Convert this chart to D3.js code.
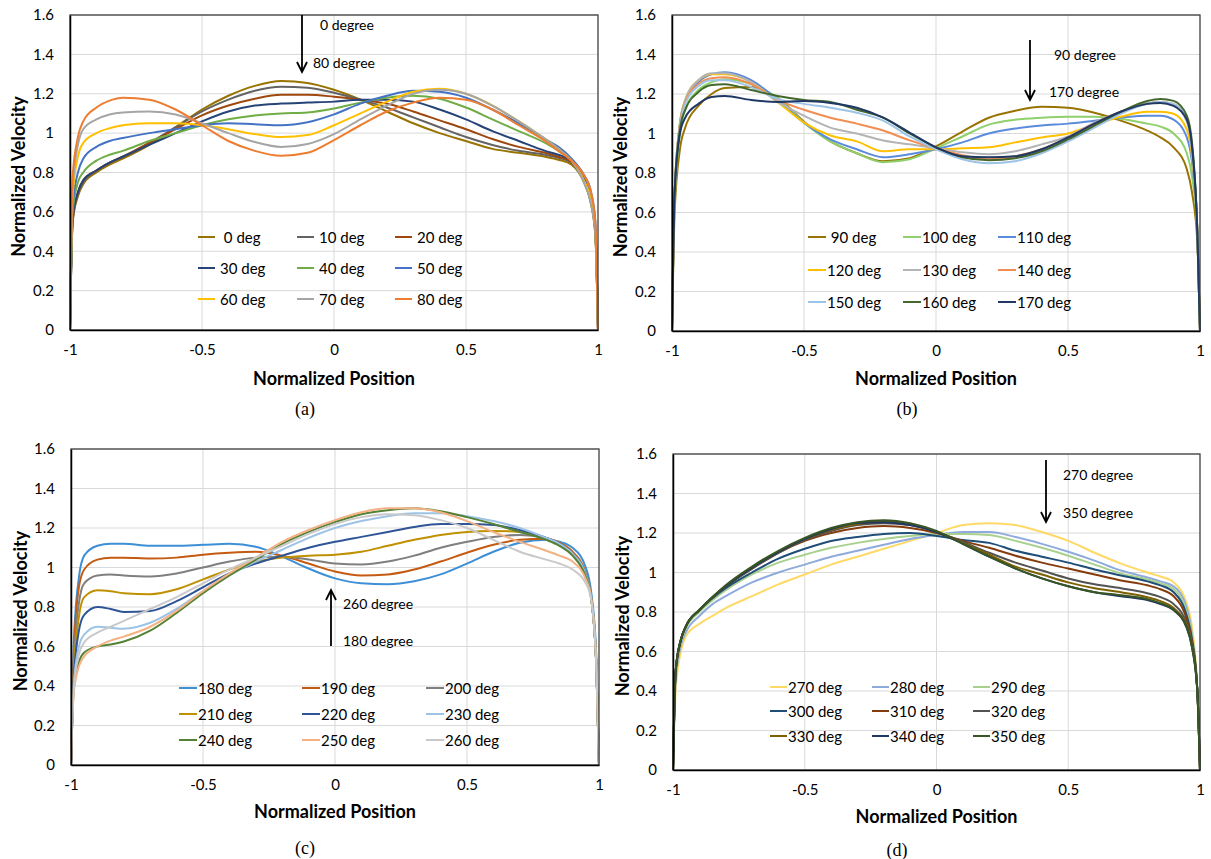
<!DOCTYPE html>
<html>
<head>
<meta charset="utf-8">
<script src="https://cdn.jsdelivr.net/npm/d3@7"></script>
<style>
  body { margin: 0; background: #fff; }
  svg { display: block; }
</style>
</head>
<body>
<svg id="fig" width="1211" height="859"></svg>
<script>
// normalized position samples shared by all curves
var xs = [-1, -0.99, -0.97, -0.95, -0.9, -0.85, -0.8, -0.7, -0.6, -0.5, -0.4, -0.3, -0.2, -0.1, 0,
          0.1, 0.2, 0.3, 0.4, 0.5, 0.6, 0.7, 0.8, 0.85, 0.9, 0.95, 0.97, 0.99, 1]

var yTicks = [0, 0.2, 0.4, 0.6, 0.8, 1, 1.2, 1.4, 1.6]
var xTicks = [-1, -0.5, 0, 0.5, 1]

// (a) 0 - 80 deg
var labelsA = [" 0 deg", "10 deg", "20 deg", "30 deg", "40 deg", "50 deg", "60 deg", "70 deg", "80 deg"]
var valuesA = [
  [0, 0.55, 0.68, 0.74, 0.8, 0.84, 0.87, 0.94, 1.03, 1.12, 1.19, 1.24, 1.265, 1.255, 1.22, 1.17, 1.11, 1.05, 1.0, 0.96, 0.92, 0.9, 0.88, 0.865, 0.84, 0.74, 0.66, 0.48, 0],
  [0, 0.55, 0.69, 0.75, 0.81, 0.85, 0.88, 0.95, 1.03, 1.11, 1.17, 1.215, 1.235, 1.23, 1.205, 1.17, 1.13, 1.08, 1.03, 0.98, 0.94, 0.91, 0.89, 0.875, 0.85, 0.75, 0.67, 0.5, 0],
  [0, 0.56, 0.7, 0.76, 0.81, 0.85, 0.88, 0.95, 1.02, 1.09, 1.14, 1.175, 1.195, 1.195, 1.185, 1.17, 1.15, 1.11, 1.065, 1.02, 0.97, 0.93, 0.9, 0.88, 0.855, 0.75, 0.67, 0.5, 0],
  [0, 0.57, 0.7, 0.76, 0.81, 0.85, 0.88, 0.94, 1.0, 1.06, 1.11, 1.14, 1.15, 1.155, 1.16, 1.17, 1.17, 1.16, 1.12, 1.07, 1.01, 0.96, 0.91, 0.89, 0.86, 0.76, 0.68, 0.5, 0],
  [0, 0.6, 0.75, 0.8, 0.86, 0.89, 0.91, 0.96, 1.0, 1.04, 1.07, 1.09, 1.1, 1.105, 1.125, 1.155, 1.18, 1.19, 1.175, 1.13, 1.07, 1.01, 0.95, 0.91, 0.86, 0.75, 0.67, 0.5, 0],
  [0, 0.63, 0.8, 0.87, 0.93, 0.96, 0.975, 1.0, 1.02, 1.04, 1.05, 1.045, 1.04, 1.055, 1.095, 1.15, 1.19, 1.215, 1.21, 1.18, 1.12, 1.05, 0.97, 0.93, 0.87, 0.78, 0.72, 0.55, 0],
  [0, 0.68, 0.88, 0.95, 1.0, 1.025, 1.04, 1.05, 1.05, 1.04, 1.02, 0.995, 0.98, 0.99, 1.04, 1.1, 1.16, 1.21, 1.225, 1.2, 1.14, 1.06, 0.97, 0.92, 0.86, 0.75, 0.68, 0.5, 0],
  [0, 0.72, 0.94, 1.02, 1.07, 1.095, 1.105, 1.11, 1.095, 1.05, 1.0, 0.955, 0.93, 0.945, 0.995, 1.07, 1.14, 1.2, 1.22, 1.2, 1.14, 1.06, 0.97, 0.92, 0.86, 0.74, 0.66, 0.48, 0],
  [0, 0.78, 0.98, 1.06, 1.13, 1.165, 1.18, 1.17, 1.12, 1.04, 0.96, 0.91, 0.885, 0.9, 0.965, 1.04, 1.11, 1.155, 1.18, 1.17, 1.12, 1.04, 0.96, 0.91, 0.86, 0.78, 0.72, 0.55, 0]
]
var colorsA = ["#997300", "#636363", "#9e480e", "#264478", "#70ad47", "#4472c4", "#ffc000", "#a5a5a5", "#ed7d31"]

// (b) 90 - 170 deg
var labelsB = [" 90 deg", "100 deg", "110 deg", "120 deg", "130 deg", "140 deg", "150 deg", "160 deg", "170 deg"]
var valuesB = [
  [0, 0.6, 0.92, 1.03, 1.14, 1.2, 1.23, 1.235, 1.18, 1.06, 0.96, 0.9, 0.86, 0.875, 0.935, 1.01, 1.08, 1.115, 1.135, 1.13, 1.105, 1.065, 1.015, 0.98, 0.93, 0.82, 0.7, 0.45, 0],
  [0, 0.65, 1.0, 1.12, 1.22, 1.26, 1.275, 1.25, 1.18, 1.055, 0.96, 0.9, 0.855, 0.87, 0.925, 0.985, 1.045, 1.07, 1.08, 1.085, 1.085, 1.075, 1.05, 1.035, 1.0, 0.9, 0.78, 0.5, 0],
  [0, 0.7, 1.05, 1.16, 1.26, 1.3, 1.31, 1.27, 1.17, 1.055, 0.97, 0.92, 0.88, 0.895, 0.92, 0.955, 1.0, 1.025, 1.04, 1.05, 1.065, 1.08, 1.09, 1.09, 1.07, 0.98, 0.85, 0.5, 0],
  [0, 0.7, 1.05, 1.17, 1.27, 1.3, 1.3, 1.26, 1.16, 1.055, 0.99, 0.96, 0.91, 0.92, 0.92, 0.925, 0.93, 0.955, 0.98, 1.0, 1.045, 1.085, 1.11, 1.11, 1.1, 1.02, 0.88, 0.5, 0],
  [0, 0.7, 1.05, 1.17, 1.27, 1.305, 1.305, 1.26, 1.16, 1.09, 1.03, 1.0, 0.965, 0.945, 0.925, 0.905, 0.895, 0.91, 0.945, 0.985, 1.055, 1.11, 1.155, 1.16, 1.145, 1.06, 0.9, 0.5, 0],
  [0, 0.7, 1.04, 1.16, 1.25, 1.28, 1.285, 1.25, 1.17, 1.12, 1.08, 1.05, 1.015, 0.965, 0.925, 0.89, 0.87, 0.885, 0.92, 0.98, 1.05, 1.11, 1.15, 1.16, 1.15, 1.07, 0.92, 0.5, 0],
  [0, 0.7, 1.03, 1.15, 1.24, 1.27, 1.27, 1.235, 1.175, 1.15, 1.13, 1.105, 1.065, 0.985, 0.92, 0.87, 0.85, 0.86, 0.9, 0.96, 1.03, 1.1, 1.15, 1.16, 1.15, 1.07, 0.92, 0.5, 0],
  [0, 0.7, 1.02, 1.12, 1.21, 1.245, 1.25, 1.22, 1.19, 1.17, 1.16, 1.12, 1.08, 1.0, 0.93, 0.88, 0.865, 0.875, 0.91, 0.97, 1.04, 1.11, 1.165, 1.175, 1.165, 1.09, 0.95, 0.5, 0],
  [0, 0.7, 1.0, 1.08, 1.15, 1.185, 1.19, 1.17, 1.16, 1.165, 1.155, 1.13, 1.08, 1.005, 0.93, 0.885, 0.88, 0.885, 0.92, 0.98, 1.05, 1.11, 1.15, 1.155, 1.14, 1.07, 0.93, 0.5, 0]
]
var colorsB = ["#997300", "#8fd06c", "#5b8bdc", "#ffc000", "#b4b4b4", "#f28e52", "#9dc3e6", "#43682b", "#203864"]

// (c) 180 - 260 deg
var labelsC = ["180 deg", "190 deg", "200 deg", "210 deg", "220 deg", "230 deg", "240 deg", "250 deg", "260 deg"]
var valuesC = [
  [0, 0.6, 0.95, 1.06, 1.11, 1.12, 1.12, 1.11, 1.11, 1.115, 1.12, 1.105, 1.055, 0.995, 0.945, 0.92, 0.915, 0.93, 0.965, 1.02, 1.08, 1.125, 1.14, 1.13, 1.1, 1.0, 0.88, 0.55, 0],
  [0, 0.55, 0.9, 0.99, 1.04, 1.05, 1.05, 1.045, 1.05, 1.065, 1.075, 1.08, 1.06, 1.02, 0.98, 0.96, 0.965, 0.99, 1.03, 1.075, 1.115, 1.14, 1.145, 1.125, 1.08, 0.97, 0.85, 0.5, 0],
  [0, 0.5, 0.82, 0.92, 0.96, 0.965, 0.96, 0.955, 0.97, 1.0, 1.03, 1.05, 1.055, 1.04, 1.02, 1.015, 1.03, 1.06, 1.1, 1.13, 1.155, 1.165, 1.15, 1.12, 1.07, 0.96, 0.85, 0.5, 0],
  [0, 0.45, 0.75, 0.85, 0.885, 0.88, 0.87, 0.865, 0.89, 0.94, 0.99, 1.03, 1.05, 1.06, 1.065, 1.08, 1.11, 1.14, 1.165, 1.18, 1.185, 1.18, 1.15, 1.12, 1.07, 0.96, 0.85, 0.5, 0],
  [0, 0.42, 0.68, 0.76, 0.8, 0.79, 0.775, 0.78, 0.83, 0.9, 0.97, 1.02, 1.06, 1.1, 1.13, 1.155, 1.18, 1.205, 1.22, 1.22, 1.215, 1.19, 1.15, 1.12, 1.07, 0.96, 0.85, 0.5, 0],
  [0, 0.4, 0.6, 0.66, 0.7, 0.695, 0.69, 0.72, 0.79, 0.88, 0.96, 1.03, 1.09, 1.15, 1.2, 1.235, 1.26, 1.275, 1.275, 1.26, 1.235, 1.2, 1.15, 1.12, 1.07, 0.96, 0.85, 0.5, 0],
  [0, 0.38, 0.52, 0.57, 0.6, 0.61, 0.625, 0.68, 0.77, 0.87, 0.96, 1.04, 1.12, 1.18, 1.23, 1.27, 1.29, 1.3, 1.285, 1.255, 1.22, 1.18, 1.14, 1.11, 1.06, 0.95, 0.85, 0.5, 0],
  [0, 0.36, 0.5, 0.55, 0.6, 0.63, 0.65, 0.7, 0.78, 0.88, 0.97, 1.05, 1.13, 1.19, 1.24, 1.28, 1.3, 1.3, 1.28, 1.235, 1.18, 1.13, 1.085, 1.06, 1.03, 0.94, 0.85, 0.5, 0],
  [0, 0.38, 0.56, 0.62, 0.67, 0.7, 0.73, 0.79, 0.85, 0.92, 0.99, 1.05, 1.11, 1.17, 1.22, 1.255, 1.27, 1.265, 1.24, 1.2, 1.14, 1.08, 1.04, 1.02, 0.99, 0.92, 0.84, 0.5, 0]
]
var colorsC = ["#3d8fd6", "#c55a11", "#7f7f7f", "#bf9000", "#2f5597", "#9dc3e6", "#548235", "#f4b183", "#c9c9c9"]

// (d) 270 - 350 deg
var labelsD = ["270 deg", "280 deg", "290 deg", "300 deg", "310 deg", "320 deg", "330 deg", "340 deg", "350 deg"]
var valuesD = [
  [0, 0.4, 0.6, 0.68, 0.74, 0.78, 0.82, 0.88, 0.94, 0.99, 1.04, 1.08, 1.12, 1.16, 1.2, 1.24, 1.25, 1.24, 1.205, 1.16, 1.1, 1.045, 1.0, 0.98, 0.95, 0.84, 0.72, 0.4, 0],
  [0, 0.45, 0.63, 0.7, 0.78, 0.84, 0.88, 0.95, 1.0, 1.04, 1.08, 1.11, 1.14, 1.17, 1.19, 1.205, 1.205, 1.18, 1.145, 1.105, 1.06, 1.01, 0.975, 0.955, 0.93, 0.82, 0.68, 0.4, 0],
  [0, 0.48, 0.65, 0.72, 0.8, 0.86, 0.91, 0.99, 1.05, 1.09, 1.125, 1.15, 1.17, 1.185, 1.195, 1.195, 1.19, 1.16, 1.125, 1.085, 1.04, 0.995, 0.965, 0.945, 0.915, 0.8, 0.67, 0.4, 0],
  [0, 0.5, 0.66, 0.73, 0.81, 0.87, 0.92, 1.0, 1.07, 1.12, 1.16, 1.18, 1.195, 1.2, 1.185, 1.165, 1.15, 1.11, 1.08, 1.05, 1.015, 0.985, 0.955, 0.935, 0.9, 0.78, 0.66, 0.4, 0],
  [0, 0.5, 0.66, 0.73, 0.81, 0.875, 0.93, 1.02, 1.1, 1.16, 1.2, 1.225, 1.235, 1.225, 1.2, 1.16, 1.125, 1.085, 1.05, 1.02, 0.99, 0.96, 0.935, 0.915, 0.88, 0.76, 0.65, 0.4, 0],
  [0, 0.5, 0.66, 0.73, 0.81, 0.875, 0.93, 1.02, 1.1, 1.165, 1.21, 1.24, 1.25, 1.24, 1.205, 1.155, 1.1, 1.05, 1.01, 0.97, 0.94, 0.92, 0.895, 0.875, 0.84, 0.74, 0.64, 0.4, 0],
  [0, 0.5, 0.66, 0.73, 0.81, 0.875, 0.93, 1.025, 1.105, 1.17, 1.215, 1.245, 1.26, 1.245, 1.205, 1.15, 1.09, 1.03, 0.99, 0.95, 0.92, 0.9, 0.875, 0.855, 0.82, 0.73, 0.63, 0.4, 0],
  [0, 0.5, 0.66, 0.73, 0.81, 0.875, 0.93, 1.025, 1.105, 1.17, 1.22, 1.25, 1.255, 1.24, 1.205, 1.145, 1.08, 1.02, 0.97, 0.93, 0.9, 0.88, 0.86, 0.84, 0.81, 0.72, 0.62, 0.4, 0],
  [0, 0.5, 0.66, 0.73, 0.81, 0.875, 0.935, 1.03, 1.11, 1.175, 1.225, 1.255, 1.265, 1.25, 1.21, 1.145, 1.08, 1.02, 0.97, 0.93, 0.9, 0.885, 0.865, 0.845, 0.81, 0.72, 0.62, 0.4, 0]
]
var colorsD = ["#ffd966", "#8faadc", "#a9d18e", "#1f4e79", "#843c0c", "#525252", "#7f6000", "#203864", "#375623"]

// layout of each panel (pixels)
var panels = [
  { l: 70, r: 598, t: 15, b: 330, yTitleX: 18, xTitleY: 378, cap: "(a)", capX: 305, capY: 409,
    legX: [198, 297, 395], legY: [237, 268, 299], legLen: 17, legGap: 5,
    arrow: { x: 302, y1: 15, y2: 72 }, notes: [[320, 24, "0 degree"], [313, 62, "80 degree"]],
    labels: labelsA, values: valuesA, colors: colorsA },
  { l: 672, r: 1200, t: 15, b: 331, yTitleX: 620, xTitleY: 378, cap: "(b)", capX: 907, capY: 409,
    legX: [808, 903, 998], legY: [237, 270, 302], legLen: 18, legGap: 1,
    arrow: { x: 1030, y1: 40, y2: 100 }, notes: [[1054, 54, "90 degree"], [1049, 91, "170 degree"]],
    labels: labelsB, values: valuesB, colors: colorsB },
  { l: 71, r: 599, t: 449, b: 765, yTitleX: 20, xTitleY: 811, cap: "(c)", capX: 305, capY: 848,
    legX: [179, 302, 426], legY: [688, 714, 740], legLen: 18, legGap: 1,
    arrow: { x: 331, y1: 646, y2: 590 }, notes: [[343, 603, "260 degree"], [343, 640, "180 degree"]],
    labels: labelsC, values: valuesC, colors: colorsC },
  { l: 673, r: 1200, t: 454, b: 770, yTitleX: 622, xTitleY: 816, cap: "(d)", capX: 897, capY: 850,
    legX: [770, 872, 973], legLen: 17, legY: [687, 711, 736], legGap: 1,
    arrow: { x: 1046, y1: 460, y2: 522 }, notes: [[1063, 474, "270 degree"], [1063, 512, "350 degree"]],
    labels: labelsD, values: valuesD, colors: colorsD }
]

var svg = d3.select("#fig")
var font = "Lato, 'Open Sans', sans-serif"

panels.forEach(drawPanel)

function drawPanel(p) {
  var x = d3.scaleLinear().domain([-1, 1]).range([p.l, p.r])
  var y = d3.scaleLinear().domain([0, 1.6]).range([p.b, p.t])
  var g = svg.append("g")

  // gridlines
  g.selectAll("line.hg").data(yTicks.slice(1)).enter().append("line")
    .attr("x1", p.l).attr("x2", p.r)
    .attr("y1", function(d) { return y(d) }).attr("y2", function(d) { return y(d) })
    .attr("stroke", "#d9d9d9").attr("stroke-width", 1)
  g.selectAll("line.vg").data(xTicks.slice(1, 4)).enter().append("line")
    .attr("y1", p.t).attr("y2", p.b)
    .attr("x1", function(d) { return x(d) }).attr("x2", function(d) { return x(d) })
    .attr("stroke", "#d9d9d9").attr("stroke-width", 1)

  // curves
  var line = d3.line()
    .x(function(d, i) { return x(xs[i]) })
    .y(function(d) { return y(d) })
    .curve(d3.curveMonotoneX)
  p.values.forEach(function(v, i) {
    g.append("path").attr("d", line(v))
      .attr("fill", "none").attr("stroke", p.colors[i]).attr("stroke-width", 2)
      .attr("stroke-linejoin", "round")
  })

  // frame
  g.append("rect").attr("x", p.l).attr("y", p.t)
    .attr("width", p.r - p.l).attr("height", p.b - p.t)
    .attr("fill", "none").attr("stroke", "#404040").attr("stroke-width", 1.3)

  // axes
  var ya = g.append("g").attr("transform", "translate(" + p.l + ",0)")
    .call(d3.axisLeft(y).tickValues(yTicks).tickSize(0).tickPadding(16)
      .tickFormat(function(d) { return String(d) }))
  var xa = g.append("g").attr("transform", "translate(0," + p.b + ")")
    .call(d3.axisBottom(x).tickValues(xTicks).tickSize(0).tickPadding(14)
      .tickFormat(function(d) { return String(d) }))
  ya.select(".domain").attr("stroke", "#000").attr("stroke-width", 1.5)
  xa.select(".domain").attr("stroke", "#000").attr("stroke-width", 1.5)
  g.selectAll(".tick text").attr("font-family", font).attr("font-size", 15).attr("fill", "#000")

  // axis titles
  g.append("text").text("Normalized Position")
    .attr("x", (p.l + p.r) / 2).attr("y", p.xTitleY)
    .attr("text-anchor", "middle").attr("dominant-baseline", "central")
    .attr("font-family", font).attr("font-weight", "bold").attr("font-size", 18)
  g.append("text").text("Normalized Velocity")
    .attr("transform", "translate(" + p.yTitleX + "," + ((p.t + p.b) / 2 + 4) + ") rotate(-90)")
    .attr("text-anchor", "middle").attr("dominant-baseline", "central")
    .attr("font-family", font).attr("font-weight", "bold").attr("font-size", 18)

  // caption
  g.append("text").text(p.cap)
    .attr("x", p.capX).attr("y", p.capY)
    .attr("text-anchor", "middle").attr("dominant-baseline", "central")
    .attr("font-family", "'Liberation Serif', serif").attr("font-size", 18)

  // legend
  p.labels.forEach(function(lab, i) {
    var lx = p.legX[i % 3], ly = p.legY[Math.floor(i / 3)]
    g.append("line").attr("x1", lx).attr("x2", lx + p.legLen)
      .attr("y1", ly).attr("y2", ly)
      .attr("stroke", p.colors[i]).attr("stroke-width", 2)
    g.append("text").text(lab)
      .attr("x", lx + p.legLen + p.legGap).attr("y", ly)
      .attr("dominant-baseline", "central")
      .style("white-space", "pre")
      .attr("font-family", font).attr("font-size", 15)
  })

  // arrow + notes
  var a = p.arrow
  var dir = a.y2 > a.y1 ? 1 : -1
  g.append("path")
    .attr("d", "M" + a.x + "," + a.y1 + "L" + a.x + "," + a.y2 +
      "M" + (a.x - 5) + "," + (a.y2 - dir * 10) + "L" + a.x + "," + a.y2 + "L" + (a.x + 5) + "," + (a.y2 - dir * 10))
    .attr("fill", "none").attr("stroke", "#000").attr("stroke-width", 1.8)
  p.notes.forEach(function(n) {
    g.append("text").text(n[2]).attr("x", n[0]).attr("y", n[1])
      .attr("dominant-baseline", "central")
      .attr("font-family", font).attr("font-size", 14)
  })
}
</script>
</body>
</html>
